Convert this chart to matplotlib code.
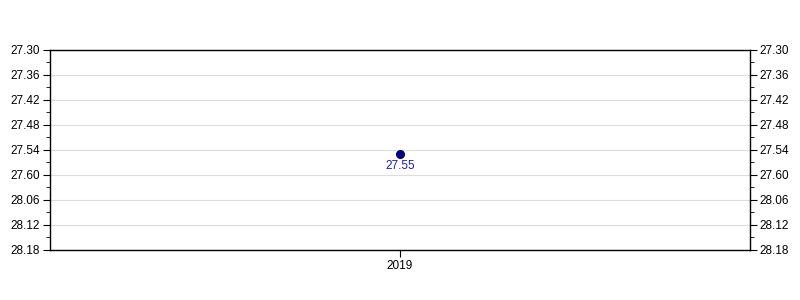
import matplotlib
matplotlib.use("Agg")
import matplotlib.pyplot as plt
from matplotlib.ticker import FuncFormatter, MultipleLocator

plt.rcParams['font.family'] = ['Liberation Sans', 'DejaVu Sans']

# data
years = ['2019']
times = [27.55]          # min.sec stored as decimal
point_labels = ['27.55']

y_ticks = [27.30, 27.36, 27.42, 27.48, 27.54, 27.60, 27.66, 27.72, 27.78]


def min_sec(v, pos=None):
    # seconds past 60 roll over to next minute (27.66 -> 28.06)
    m = int(v + 1e-9)
    s = int(round((v - m) * 100))
    if s > 60:
        m += 1
        s -= 60
    return "%d.%02d" % (m, s)


fig = plt.figure(figsize=(8, 3), dpi=100)
ax = fig.add_axes([0.0625, 0.1667, 0.875, 0.6667])

x = range(len(years))
ax.plot(x, times, 'o', color='#000080', markersize=5.5, zorder=3)
for xi, t, lab in zip(x, times, point_labels):
    ax.annotate(lab, (xi, t), xytext=(0, -4), textcoords='offset points',
                ha='center', va='top', fontsize=8.5, color='#1a1acc')

ax.set_xlim(-1, 1)
ax.set_xticks(list(x))
ax.set_xticklabels(years)

ax.set_ylim(y_ticks[-1], y_ticks[0])
ax.set_yticks(y_ticks)
ax.yaxis.set_major_formatter(FuncFormatter(min_sec))
ax.yaxis.set_minor_locator(MultipleLocator(0.03))
ax.grid(axis='y', color='#dddddd', linewidth=0.8)
ax.set_axisbelow(True)

ax.tick_params(axis='y', which='major', length=5, pad=2, labelsize=8.5,
               left=True, right=True, labelleft=True, labelright=True)
ax.tick_params(axis='y', which='minor', length=3, left=True, right=True)
ax.tick_params(axis='x', length=5, pad=2.5, labelsize=8.5)
for sp in ax.spines.values():
    sp.set_color('black')
    sp.set_linewidth(1)

fig.savefig('out.png', dpi=100)
